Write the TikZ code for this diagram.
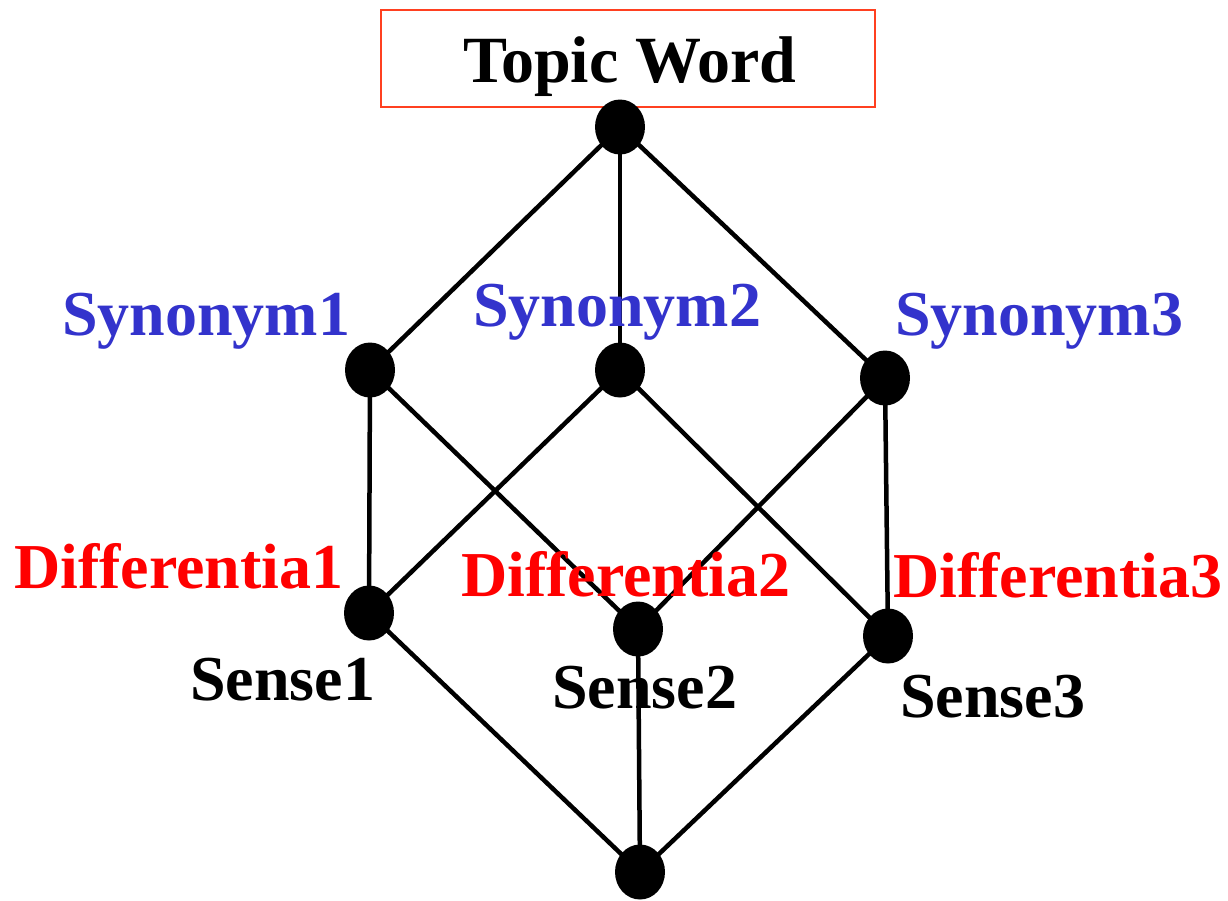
\documentclass[tikz,border=0pt]{standalone}
\usepackage{fontspec}
\setmainfont{Liberation Serif}
\definecolor{synblue}{RGB}{51,51,204}
\definecolor{boxred}{RGB}{255,64,32}
\usetikzlibrary{shapes.geometric}
\tikzset{
  dot/.style={ellipse, fill=black, minimum width=50pt, minimum height=55pt, inner sep=0pt},
  edge/.style={line width=4.5pt},
  lbl/.style={anchor=base west, inner sep=0pt, font=\fontsize{64}{70}\selectfont\bfseries},
  syn/.style={lbl, text=synblue},
  dif/.style={lbl, text=red},
  sen/.style={lbl, text=black},
}
\begin{document}
\begin{tikzpicture}[x=1pt,y=-1pt]
\useasboundingbox (0,0) rectangle (1228,900);
\node[draw=boxred, line width=1.5pt, minimum width=494pt, minimum height=97pt, inner sep=0pt] (box) at (628,58.5) {};
\node[lbl, font=\fontsize{66}{72}\selectfont\bfseries] (tw) at (463,82) {Topic Word};

\node[dot] (top) at (620,127) {};
\node[dot] (s1) at (370,370) {};
\node[dot] (s2) at (620,370) {};
\node[dot] (s3) at (885,378) {};
\node[dot] (e1) at (369,613) {};
\node[dot] (e2) at (638,629) {};
\node[dot] (e3) at (888,636) {};
\node[dot] (bot) at (640,872) {};

\draw[edge] (top.center) -- (s1.center);
\draw[edge] (top.center) -- (s2.center);
\draw[edge] (top.center) -- (s3.center);
\draw[edge] (s1.center) -- (e1.center);
\draw[edge] (s1.center) -- (e2.center);
\draw[edge] (s2.center) -- (e1.center);
\draw[edge] (s2.center) -- (e3.center);
\draw[edge] (s3.center) -- (e2.center);
\draw[edge] (s3.center) -- (e3.center);
\draw[edge] (e1.center) -- (bot.center);
\draw[edge] (e2.center) -- (bot.center);
\draw[edge] (e3.center) -- (bot.center);

\node[syn] (ls1) at (62,335) {Synonym1};
\node[syn] (ls2) at (473,326) {Synonym2};
\node[syn] (ls3) at (895,335) {Synonym3};
\node[dif] (ld1) at (14,588) {Differentia1};
\node[dif] (ld2) at (461,596) {Differentia2};
\node[dif] (ld3) at (893,597) {Differentia3};
\node[sen] (le1) at (190,700) {Sense1};
\node[sen] (le2) at (552,708) {Sense2};
\node[sen] (le3) at (900,717) {Sense3};
\end{tikzpicture}
\end{document}
